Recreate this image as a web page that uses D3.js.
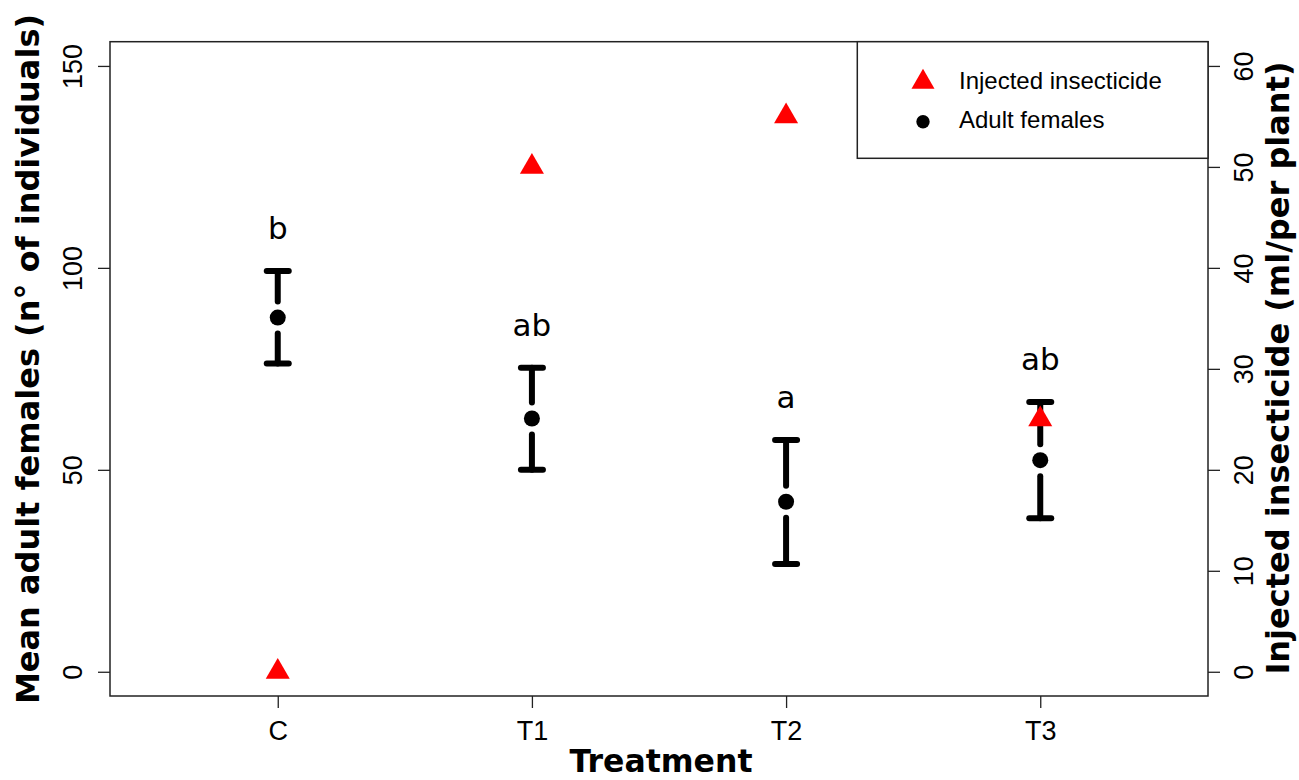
<!DOCTYPE html>
<html>
<head>
<meta charset="utf-8">
<script src="https://cdn.jsdelivr.net/npm/d3@7"></script>
<style>
  body { margin: 0; background: #fff; }
  svg { display: block; }
</style>
</head>
<body>
<svg id="chart" width="1299" height="780"></svg>
<script>
// valeurs
const treatments = ["C", "T1", "T2", "T3"];
const femaleMean = [87.7, 62.7, 42.1, 52.4];
const femaleUpper = [99.2, 75.3, 57.4, 66.8];
const femaleLower = [76.3, 50.0, 26.7, 38.0];
const insecticide = [0, 50, 55, 25];
const letters = ["b", "ab", "a", "ab"];
const leftTicks = [0, 50, 100, 150];
const rightTicks = [0, 10, 20, 30, 40, 50, 60];

let svg = d3.select("#chart"),
    box = {left: 110, right: 1208, top: 41.7, bottom: 696},
    tickFont = "'Liberation Sans', Arial, sans-serif",
    titleFont = "'DejaVu Sans', sans-serif";

// echelles (ylim R avec extension de 4%)
let x = d3.scalePoint().domain(treatments).range([box.left, box.right]).padding(0.66),
    yL = d3.scaleLinear().domain([-6, 156]).range([box.bottom, box.top]),
    yR = d3.scaleLinear().domain([-2.4, 62.4]).range([box.bottom, box.top]);

// axes
function styleAxis(g){
    g.select(".domain").remove();
    g.selectAll(".tick line").attr("stroke", "#222").attr("stroke-width", 1.3);
    g.selectAll(".tick text").attr("font-family", tickFont).attr("font-size", 27).attr("fill", "#000");
}
svg.append("g").attr("transform", `translate(${box.left},0)`)
    .call(d3.axisLeft(yL).tickValues(leftTicks).tickSize(12))
    .call(styleAxis)
    .call(g => g.selectAll(".tick text")
        .attr("transform", "rotate(-90)").attr("x", 0).attr("y", -28)
        .attr("dy", 0).attr("text-anchor", "middle"));

svg.append("g").attr("transform", `translate(${box.right},0)`)
    .call(d3.axisRight(yR).tickValues(rightTicks).tickSize(12))
    .call(styleAxis)
    .call(g => g.selectAll(".tick text")
        .attr("transform", "rotate(-90)").attr("x", 0).attr("y", 45)
        .attr("dy", 0).attr("text-anchor", "middle"));

svg.append("g").attr("transform", `translate(0,${box.bottom})`)
    .call(d3.axisBottom(x).tickSize(12))
    .call(styleAxis)
    .call(g => g.selectAll(".tick text").attr("y", 44).attr("dy", 0));

// cadre
svg.append("rect")
    .attr("x", box.left).attr("y", box.top)
    .attr("width", box.right - box.left).attr("height", box.bottom - box.top)
    .attr("fill", "none").attr("stroke", "#222").attr("stroke-width", 1.5);

// titres
svg.append("text")
    .attr("transform", "translate(39,359) rotate(-90)")
    .attr("text-anchor", "middle")
    .attr("font-family", titleFont).attr("font-weight", "bold").attr("font-size", 32)
    .text("Mean adult females (n° of individuals)");
svg.append("text")
    .attr("transform", "translate(1289,368) rotate(-90)")
    .attr("text-anchor", "middle")
    .attr("font-family", titleFont).attr("font-weight", "bold").attr("font-size", 32)
    .text("Injected insecticide (ml/per plant)");
svg.append("text")
    .attr("x", 661).attr("y", 772)
    .attr("text-anchor", "middle")
    .attr("font-family", titleFont).attr("font-weight", "bold").attr("font-size", 31.5)
    .text("Treatment");

// barres d'erreur avec un espace autour du point
let rows = treatments.map((t, i) => ({
    t: t, mean: femaleMean[i], up: femaleUpper[i], lo: femaleLower[i],
    ins: insecticide[i], letter: letters[i]
}));
let gap = 16, capW = 11;
let eb = svg.append("g").attr("stroke", "#000").attr("stroke-width", 6).attr("stroke-linecap", "round");
rows.forEach(d => {
    let cx = x(d.t);
    eb.append("line").attr("x1", cx).attr("x2", cx).attr("y1", yL(d.up)).attr("y2", yL(d.mean) - gap);
    eb.append("line").attr("x1", cx).attr("x2", cx).attr("y1", yL(d.mean) + gap).attr("y2", yL(d.lo));
    eb.append("line").attr("x1", cx - capW).attr("x2", cx + capW).attr("y1", yL(d.up)).attr("y2", yL(d.up));
    eb.append("line").attr("x1", cx - capW).attr("x2", cx + capW).attr("y1", yL(d.lo)).attr("y2", yL(d.lo));
});

svg.append("g").selectAll("circle").data(rows).enter()
    .append("circle")
    .attr("cx", d => x(d.t)).attr("cy", d => yL(d.mean))
    .attr("r", 8).attr("fill", "#000");

// insecticide (axe droit)
let tri = d3.symbol(d3.symbolTriangle, 250);
svg.append("g").selectAll("path").data(rows).enter()
    .append("path")
    .attr("d", tri)
    .attr("transform", d => `translate(${x(d.t)},${yR(d.ins)})`)
    .attr("fill", "#ff0000");

// lettres de significativite
svg.append("g").selectAll("text").data(rows).enter()
    .append("text")
    .attr("x", d => x(d.t)).attr("y", d => yL(d.up) - 32)
    .attr("text-anchor", "middle")
    .attr("font-family", titleFont).attr("font-size", 31)
    .text(d => d.letter);

// legende
let leg = svg.append("g");
leg.append("rect")
    .attr("x", 857.3).attr("y", box.top)
    .attr("width", box.right - 857.3).attr("height", 158.3 - box.top)
    .attr("fill", "#fff").attr("stroke", "#222").attr("stroke-width", 1.5);
leg.append("path").attr("d", d3.symbol(d3.symbolTriangle, 230))
    .attr("transform", "translate(923,82)").attr("fill", "#ff0000");
leg.append("circle").attr("cx", 923).attr("cy", 121.7).attr("r", 6.7).attr("fill", "#000");
leg.append("text").attr("x", 959).attr("y", 89.3)
    .attr("font-family", tickFont).attr("font-size", 24).text("Injected insecticide");
leg.append("text").attr("x", 959).attr("y", 128.3)
    .attr("font-family", tickFont).attr("font-size", 24).text("Adult females");
</script>
</body>
</html>
